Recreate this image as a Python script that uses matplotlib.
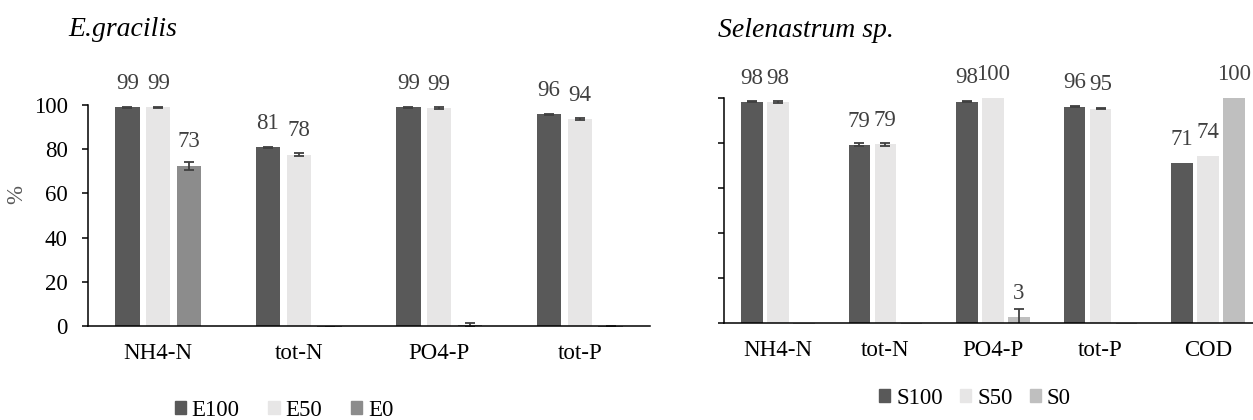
import matplotlib
matplotlib.use("Agg")
import matplotlib.pyplot as plt
from matplotlib.patches import Patch
import numpy as np

plt.rcParams['font.family'] = ['Liberation Serif', 'DejaVu Serif']

# removal efficiency (%), E. gracilis
cats_e = ['NH4-N', 'tot-N', 'PO4-P', 'tot-P']
e100 = [99.0, 80.8, 99.0, 95.8]
e50 = [98.9, 77.6, 98.8, 93.8]
e0 = [72.6, -0.5, 0.4, -0.4]
e100_err = [0.3, 0.3, 0.3, 0.3]
e50_err = [0.4, 0.6, 0.5, 0.5]
e0_err = [1.8, 0.2, 1.0, 0.2]

# removal efficiency (%), Selenastrum sp.
cats_s = ['NH4-N', 'tot-N', 'PO4-P', 'tot-P', 'COD']
s100 = [98.3, 79.2, 98.4, 96.2, 71.0]
s50 = [98.2, 79.4, 100.0, 95.3, 74.3]
s0 = [-0.4, -0.4, 2.6, -0.4, 100.0]
s100_err = [0.2, 0.7, 0.2, 0.2, 0.0]
s50_err = [0.4, 0.6, 0.0, 0.4, 0.0]
s0_err = [0.0, 0.0, 3.6, 0.0, 0.0]

dark, light = '#595959', '#E7E6E6'
fs = 16.5

fig = plt.figure(figsize=(12.53, 4.2), dpi=100)
ax1 = fig.add_axes([88/1253, 94/420, 562/1253, 221/420])
ax2 = fig.add_axes([724/1253, 97/420, 538/1253, 225/420])


def draw(ax, cats, series, errs, colors, step, width):
    x = np.arange(len(cats))
    for k, (vals, err, col) in enumerate(zip(series, errs, colors)):
        pos = x + (k - 1) * step
        ax.bar(pos, vals, width, color=col, clip_on=False, zorder=2)
        err = np.array(err)
        has = err > 0
        ax.errorbar(pos[has], np.array(vals)[has], yerr=err[has], fmt='none',
                    ecolor='#404040', elinewidth=1.3, capsize=3.3,
                    capthick=1.3, zorder=3)
        for p, v in zip(pos, vals):
            if v >= 1:
                ax.annotate(f'{v:.0f}', (p, v), xytext=(0, 17),
                            textcoords='offset points', ha='center',
                            va='center', fontsize=fs, color='#404040')
    ax.set_xlim(-0.5, len(cats) - 0.5)
    ax.set_ylim(0, 100)
    ax.set_yticks(range(0, 101, 20))
    ax.set_xticks(x)
    ax.set_xticklabels(cats, fontsize=fs)
    ax.tick_params(axis='x', length=0, pad=12)
    ax.tick_params(axis='y', length=4.5, width=1.1, direction='out',
                   labelsize=fs, pad=10)
    for s in ('top', 'right'):
        ax.spines[s].set_visible(False)
    for s in ('left', 'bottom'):
        ax.spines[s].set_linewidth(1.1)
        ax.spines[s].set_zorder(4)


draw(ax1, cats_e, [e100, e50, e0], [e100_err, e50_err, e0_err],
     [dark, light, '#8C8C8C'], 0.22, 0.174)
draw(ax2, cats_s, [s100, s50, s0], [s100_err, s50_err, s0_err],
     [dark, light, '#BFBFBF'], 0.2414, 0.2)
ax2.set_yticklabels([])

fig.text(17/1253, 1 - 195/420, '%', rotation=90, ha='center', va='center',
         fontsize=fs, color='#595959')
fig.text(68/1253, 1 - 36/420, 'E.gracilis', style='italic', fontsize=20,
         va='baseline')
fig.text(718/1253, 1 - 37/420, 'Selenastrum sp.', style='italic',
         fontsize=20, va='baseline')

leg_kw = dict(frameon=False, ncol=3, fontsize=fs, handlelength=0.5,
              handleheight=0.5, handletextpad=0.25, loc='center',
              borderaxespad=0, borderpad=0)
fig.legend([Patch(color=dark), Patch(color=light), Patch(color='#8C8C8C')],
           ['E100', 'E50', 'E0'], bbox_to_anchor=(284/1253, 10/420),
           columnspacing=1.25, **leg_kw)
fig.legend([Patch(color=dark), Patch(color=light), Patch(color='#BFBFBF')],
           ['S100', 'S50', 'S0'], bbox_to_anchor=(975/1253, 22/420),
           columnspacing=0.75, **leg_kw)

fig.savefig('out.png', dpi=100)
